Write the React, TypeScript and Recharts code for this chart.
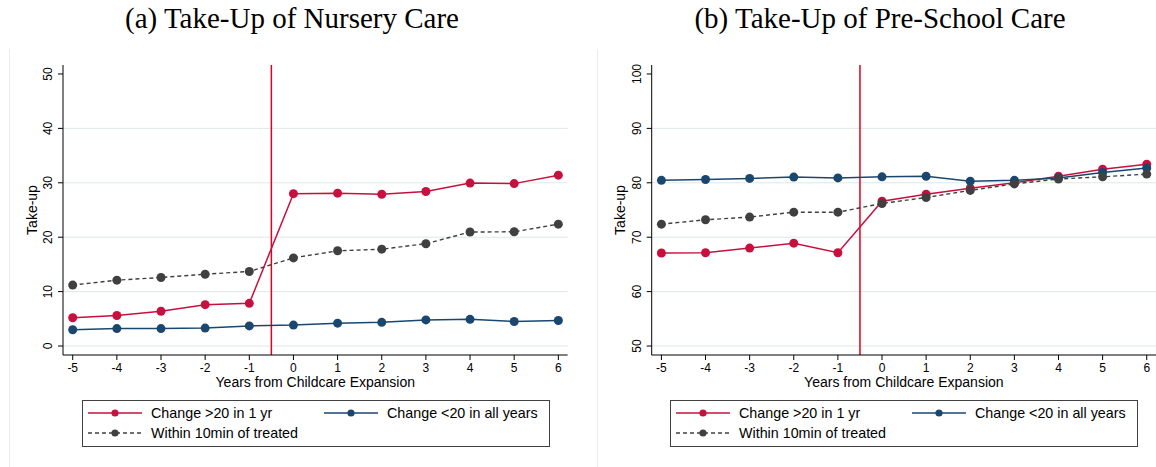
import { Line, LineChart, ReferenceLine, XAxis, YAxis } from 'recharts'

const YEARS = [-5, -4, -3, -2, -1, 0, 1, 2, 3, 4, 5, 6]

// (a) nursery care take-up
const NURSERY_HIGH = [5.2, 5.6, 6.4, 7.6, 7.85, 28.0, 28.1, 27.9, 28.4, 29.95, 29.85, 31.4]
const NURSERY_LOW = [3.0, 3.2, 3.2, 3.3, 3.7, 3.85, 4.2, 4.35, 4.8, 4.9, 4.5, 4.7]
const NURSERY_NEAR = [11.2, 12.1, 12.6, 13.2, 13.7, 16.2, 17.5, 17.8, 18.8, 20.95, 21.0, 22.4]

// (b) pre-school care take-up
const PRESCHOOL_HIGH = [67.1, 67.15, 68.0, 68.9, 67.15, 76.6, 77.9, 79.0, 80.0, 81.2, 82.5, 83.4]
const PRESCHOOL_LOW = [80.45, 80.6, 80.8, 81.05, 80.9, 81.1, 81.2, 80.3, 80.45, 80.9, 81.9, 82.7]
const PRESCHOOL_NEAR = [72.4, 73.2, 73.7, 74.6, 74.6, 76.2, 77.3, 78.6, 79.8, 80.7, 81.1, 81.6]

const NURSERY_TICKS = [0, 10, 20, 30, 40, 50]
const PRESCHOOL_TICKS = [50, 60, 70, 80, 90, 100]

const SERIES_NAMES = ['Change >20 in 1 yr', 'Change <20 in all years', 'Within 10min of treated']

const RED = '#c8103e'
const BLUE = '#1a476f'
const GRAY = '#404040'
const VLINE = '#e2001a'
const GRID = '#dfe7e8'
const SANS = '"Liberation Sans", Arial, sans-serif'

function buildRows(high: number[], low: number[], near: number[]) {
  return YEARS.map((year, i) => ({ year, high: high[i], low: low[i], near: near[i] }))
}

function YTick(props: any) {
  const { x, y, payload } = props
  return (
    <text
      x={x}
      y={y}
      transform={`rotate(-90 ${x} ${y})`}
      textAnchor="middle"
      fontSize={12}
      fontFamily={SANS}
      fill="#000"
    >
      {payload.value}
    </text>
  )
}

function LegendBox({ left }: { left: number }) {
  const items = [
    { name: SERIES_NAMES[0], color: RED, dash: undefined, x: 0, y: 13 },
    { name: SERIES_NAMES[1], color: BLUE, dash: undefined, x: 236, y: 13 },
    { name: SERIES_NAMES[2], color: GRAY, dash: '4 3', x: 0, y: 33 },
  ]
  return (
    <svg
      style={{ position: 'absolute', left, top: 400 }}
      width={468}
      height={47}
    >
      <rect x={0.5} y={0.5} width={467} height={46} fill="#fff" stroke="#404040" />
      {items.map((it) => (
        <g key={it.name}>
          <line
            x1={it.x + 6}
            x2={it.x + 60}
            y1={it.y}
            y2={it.y}
            stroke={it.color}
            strokeWidth={1.4}
            strokeDasharray={it.dash}
          />
          <circle cx={it.x + 33} cy={it.y} r={3.6} fill={it.color} />
          <text
            x={it.x + 69}
            y={it.y + 5}
            fontSize={14.3}
            fontFamily={SANS}
            fill="#000"
          >
            {it.name}
          </text>
        </g>
      ))}
    </svg>
  )
}

interface PanelProps {
  title: string
  titleCenter: number
  left: number
  width: number
  marginLeft: number
  marginRight: number
  high: number[]
  low: number[]
  near: number[]
  yTicks: number[]
  labelDx: number
}

function Panel({
  title,
  titleCenter,
  left,
  width,
  marginLeft,
  marginRight,
  high,
  low,
  near,
  yTicks,
  labelDx,
}: PanelProps) {
  const data = buildRows(high, low, near)
  const lo = yTicks[0]
  const hi = yTicks[yTicks.length - 1]
  const pad = (hi - lo) * 0.033
  const gridValues = yTicks.slice(0, -1)

  return (
    <>
      <div
        style={{
          position: 'absolute',
          left: titleCenter - 250,
          width: 500,
          top: 2,
          textAlign: 'center',
          fontFamily: '"Liberation Serif", "Times New Roman", serif',
          fontSize: 29,
          color: '#000',
          whiteSpace: 'nowrap',
        }}
      >
        {title}
      </div>
      <div style={{ position: 'absolute', left, top: 0 }}>
        <LineChart
          width={width}
          height={467}
          data={data}
          margin={{ top: 65, right: marginRight, left: marginLeft, bottom: 72 }}
        >
          {gridValues.map((v) => (
            <ReferenceLine key={v} y={v} stroke={GRID} strokeWidth={1} />
          ))}
          <XAxis
            dataKey="year"
            type="number"
            domain={[-5.22, 6.21]}
            ticks={YEARS}
            interval={0}
            height={40}
            stroke="#000"
            tickSize={5}
            tickMargin={3}
            tick={{ fontSize: 12, fill: '#000', fontFamily: SANS }}
            label={{
              value: 'Years from Childcare Expansion',
              position: 'insideBottom',
              offset: 8,
              style: { fontSize: 14, fill: '#000', fontFamily: SANS },
            }}
          />
          <YAxis
            type="number"
            domain={[lo - pad, hi + pad]}
            ticks={yTicks}
            interval={0}
            width={53}
            stroke="#000"
            tickSize={5}
            tickMargin={5.5}
            tick={<YTick />}
            label={{
              value: 'Take-up',
              angle: -90,
              position: 'center',
              dx: labelDx,
              style: { fontSize: 14, fill: '#000', fontFamily: SANS, textAnchor: 'middle' },
            }}
          />
          <ReferenceLine x={-0.5} stroke={VLINE} strokeWidth={1.5} />
          <Line
            dataKey="high"
            name={SERIES_NAMES[0]}
            stroke={RED}
            strokeWidth={1.5}
            dot={{ r: 4.5, fill: RED, stroke: RED, strokeWidth: 0 }}
            isAnimationActive={false}
          />
          <Line
            dataKey="low"
            name={SERIES_NAMES[1]}
            stroke={BLUE}
            strokeWidth={1.5}
            dot={{ r: 4.5, fill: BLUE, stroke: BLUE, strokeWidth: 0 }}
            isAnimationActive={false}
          />
          <Line
            dataKey="near"
            name={SERIES_NAMES[2]}
            stroke={GRAY}
            strokeWidth={1.4}
            strokeDasharray="4 3"
            dot={{ r: 4.5, fill: GRAY, stroke: GRAY, strokeWidth: 0 }}
            isAnimationActive={false}
          />
        </LineChart>
      </div>
    </>
  )
}

export default function App() {
  return (
    <div
      style={{
        position: 'absolute',
        left: 0,
        top: 0,
        width: 1156,
        height: 467,
        background: '#fff',
        overflow: 'hidden',
      }}
    >
      <div style={{ position: 'absolute', left: 9, top: 49, width: 1, height: 418, background: '#ececec' }} />
      <div style={{ position: 'absolute', left: 597, top: 49, width: 1, height: 418, background: '#ececec' }} />
      <Panel
        title="(a) Take-Up of Nursery Care"
        titleCenter={292}
        left={0}
        width={598}
        marginLeft={10}
        marginRight={30.4}
        high={NURSERY_HIGH}
        low={NURSERY_LOW}
        near={NURSERY_NEAR}
        yTicks={NURSERY_TICKS}
        labelDx={-4.5}
      />
      <Panel
        title="(b) Take-Up of Pre-School Care"
        titleCenter={880}
        left={598}
        width={558}
        marginLeft={0.7}
        marginRight={0}
        high={PRESCHOOL_HIGH}
        low={PRESCHOOL_LOW}
        near={PRESCHOOL_NEAR}
        yTicks={PRESCHOOL_TICKS}
        labelDx={-5}
      />
      <LegendBox left={82} />
      <LegendBox left={670} />
    </div>
  )
}
